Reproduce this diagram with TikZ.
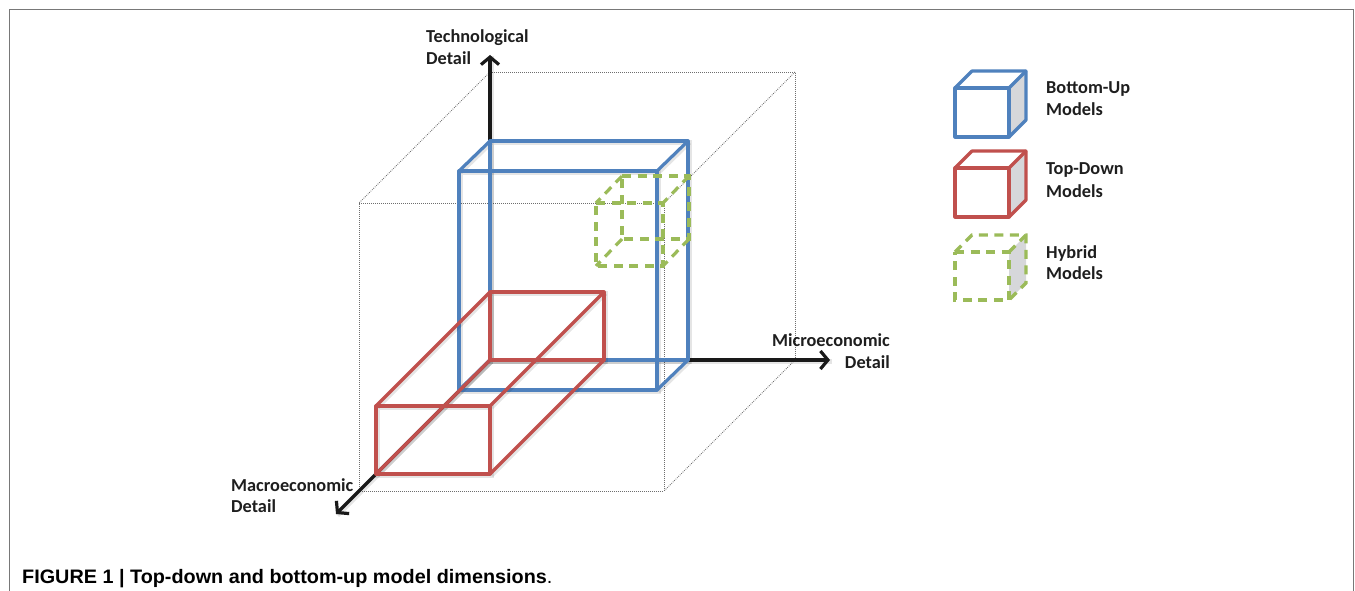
\documentclass[tikz,border=0pt]{standalone}
\usepackage{graphicx}
\usepackage{fontspec}
\setmainfont{Carlito}
\newfontfamily\capfont{Liberation Sans}
\usetikzlibrary{arrows.meta}

\definecolor{cubeblue}{RGB}{79,129,189}
\definecolor{cubered}{RGB}{192,80,77}
\definecolor{cubegreen}{RGB}{155,187,89}
\definecolor{labelink}{RGB}{30,30,30}
\definecolor{sideshade}{RGB}{214,215,218}
\definecolor{framegray}{RGB}{120,120,120}
\definecolor{dotgray}{RGB}{110,110,110}

% corners of a cuboid: name, back top-left x, y, width, height, depth offset dx, dy
\newcommand\defcuboid[7]{%
  \coordinate (#1-btl) at (#2,#3);
  \coordinate (#1-btr) at ({#2+#4},#3);
  \coordinate (#1-bbr) at ({#2+#4},{#3+#5});
  \coordinate (#1-bbl) at (#2,{#3+#5});
  \coordinate (#1-ftl) at ({#2+#6},{#3+#7});
  \coordinate (#1-ftr) at ({#2+#4+#6},{#3+#7});
  \coordinate (#1-fbr) at ({#2+#4+#6},{#3+#5+#7});
  \coordinate (#1-fbl) at ({#2+#6},{#3+#5+#7});
}
% all twelve edges of a cuboid
\newcommand\drawcuboid[2]{%
  \draw[#2] (#1-btl) -- (#1-btr) -- (#1-bbr) -- (#1-bbl) -- cycle;
  \draw[#2] (#1-ftl) -- (#1-ftr) -- (#1-fbr) -- (#1-fbl) -- cycle;
  \draw[#2] (#1-btl) -- (#1-ftl);
  \draw[#2] (#1-btr) -- (#1-ftr);
  \draw[#2] (#1-bbr) -- (#1-fbr);
  \draw[#2] (#1-bbl) -- (#1-fbl);
}
% legend cube seen from the front: name, front top-left x, y, width, height, depth
\newcommand\legendcube[7]{%
  \coordinate (#1-ftl) at (#2,#3);
  \coordinate (#1-ftr) at ({#2+#4},#3);
  \coordinate (#1-fbr) at ({#2+#4},{#3+#5});
  \coordinate (#1-fbl) at (#2,{#3+#5});
  \coordinate (#1-btl) at ({#2+#6},{#3-#6});
  \coordinate (#1-btr) at ({#2+#4+#6},{#3-#6});
  \coordinate (#1-bbr) at ({#2+#4+#6},{#3+#5-#6});
  \fill[sideshade] (#1-ftr) -- (#1-btr) -- (#1-bbr) -- (#1-fbr) -- cycle;
  \draw[#7] (#1-ftl) -- (#1-ftr) -- (#1-fbr) -- (#1-fbl) -- cycle;
  \draw[#7] (#1-ftl) -- (#1-btl) -- (#1-btr) -- (#1-bbr) -- (#1-fbr);
  \draw[#7] (#1-ftr) -- (#1-btr);
}

\begin{document}
\begin{tikzpicture}[x=1pt,y=-1pt,
  edge/.style={line width=3.2pt, line cap=round, line join=round},
  blueedge/.style={edge, draw=cubeblue},
  rededge/.style={edge, draw=cubered},
  greenedge/.style={line width=3.2pt, draw=cubegreen, dash pattern=on 9pt off 6.5pt},
  shadowedge/.style={line width=4.5pt, draw=black, draw opacity=0.10,
    transform canvas={xshift=1.5pt,yshift=-1.5pt}},
  dotline/.style={draw=dotgray, line width=0.8pt, dash pattern=on 0.8pt off 1.2pt},
  axis/.style={line width=3.2pt, draw=black!90,
    -{Straight Barb[length=7.5pt,width=18pt]}},
  lbl/.style={font=\bfseries\fontsize{18.3}{22}\selectfont, text=labelink, inner sep=0pt},
]
\useasboundingbox (0,0) rectangle (1355,591);

% page frame
\draw[framegray, line width=1.5pt] (9.5,591) -- (9.5,9.5) -- (1353.5,9.5) -- (1353.5,591);

% dotted outline of the full model space
\defcuboid{space}{490}{72}{305}{288}{-131}{131}
\draw[dotline] (space-btl) -- (space-btr) -- (space-bbr);
\draw[dotline] (space-ftl) -- (space-ftr) -- (space-fbr) -- (space-fbl) -- cycle;
\draw[dotline] (space-btl) -- (space-ftl);
\draw[dotline] (space-btr) -- (space-ftr);
\draw[dotline] (space-bbr) -- (space-fbr);

% the three detail axes
\coordinate (origin) at (490,360);
\coordinate (techtip) at (490,55);
\coordinate (microtip) at (830,360);
\coordinate (macrotip) at (336,514);
\draw[shadowedge] (origin) -- (techtip);
\draw[shadowedge] (origin) -- (microtip);
\draw[shadowedge] (origin) -- (macrotip);
\draw[axis] (origin) -- (techtip);
\draw[axis] (origin) -- (microtip);
\draw[axis] (origin) -- (macrotip);

% bottom-up models
\defcuboid{bu}{490}{141}{198}{219}{-31}{30}
\drawcuboid{bu}{shadowedge}
\drawcuboid{bu}{blueedge}

% top-down models
\defcuboid{td}{490}{292}{114}{68}{-114}{114}
\drawcuboid{td}{shadowedge}
\drawcuboid{td}{rededge}

% hybrid models
\defcuboid{hy}{622}{176}{67}{63}{-26}{27}
\drawcuboid{hy}{greenedge}

% axis labels
\node[lbl, anchor=base west] (tech1) at (426,43) {Technological};
\node[lbl, anchor=base west] (tech2) at (426,65) {Detail};
\node[lbl, anchor=base east] (micro1) at (890,346) {Microeconomic};
\node[lbl, anchor=base east] (micro2) at (890,368) {Detail};
\node[lbl, anchor=base west] (macro1) at (231,491) {Macroeconomic};
\node[lbl, anchor=base west] (macro2) at (231,512) {Detail};

% legend
\legendcube{lgbu}{955}{88}{54}{49}{17}{blueedge}
\legendcube{lgtd}{955}{168}{54}{49}{17}{rededge}
\legendcube{lghy}{955}{252}{54}{48}{17}{greenedge}
\node[lbl, anchor=base west] (lbu1) at (1046,94) {Bottom-Up};
\node[lbl, anchor=base west] (lbu2) at (1046,116) {Models};
\node[lbl, anchor=base west] (ltd1) at (1046,175) {Top-Down};
\node[lbl, anchor=base west] (ltd2) at (1046,197) {Models};
\node[lbl, anchor=base west] (lhy1) at (1046,258) {Hybrid};
\node[lbl, anchor=base west] (lhy2) at (1046,279) {Models};

% caption
\node[anchor=base west, inner sep=0pt] (caption) at (22,583)
  {\capfont\fontsize{19.5}{22}\selectfont\scalebox{1.016}[1]{\bfseries FIGURE 1 | Top-down and bottom-up model dimensions\mdseries.}};
\end{tikzpicture}
\end{document}
